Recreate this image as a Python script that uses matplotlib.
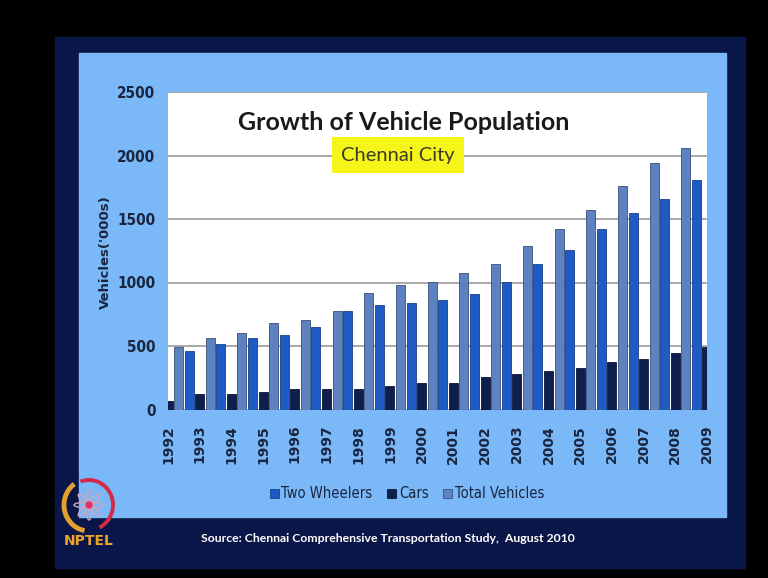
import numpy as np
import matplotlib
matplotlib.use("Agg")
import matplotlib.pyplot as plt
from matplotlib.patches import Rectangle, Arc, Ellipse, Circle

years = [str(y) for y in range(1992, 2010)]
# values in thousands (first TW and last total are cut off by the axis)
two_wheelers = [430, 463, 516, 566, 585, 653, 774, 821, 842, 863, 913, 1002, 1149, 1259, 1425, 1546, 1661, 1811]
cars = [69, 120, 120, 140, 161, 161, 161, 188, 211, 211, 259, 280, 306, 330, 374, 398, 445, 495]
total = [495, 566, 605, 684, 705, 774, 915, 984, 1002, 1078, 1149, 1288, 1425, 1567, 1756, 1940, 2058, 2250]
yticks = [0, 500, 1000, 1500, 2000, 2500]

W, H = 768, 578
fig = plt.figure(figsize=(W / 100, H / 100), dpi=100, facecolor='black')

# slide background drawn in pixel coords
bg = fig.add_axes([0, 0, 1, 1])
bg.set_xlim(0, W)
bg.set_ylim(H, 0)
bg.axis('off')
bg.set_zorder(0)
bg.add_patch(Rectangle((55, 37), 690, 531, color='#0b1648'))
bg.add_patch(Rectangle((79, 53), 647, 464, color='#7ab8f7'))

# NPTEL logo (rough)
cx, cy = 89, 505
bg.add_patch(Arc((cx, cy), 50, 52, theta1=100, theta2=235, color='#e3a02e', lw=3.5))
bg.add_patch(Arc((cx, cy), 48, 50, theta1=-110, theta2=65, color='#d42a4a', lw=2.8))
for ang in [0, 45, 90, 135]:
    bg.add_patch(Ellipse((cx, cy), 30, 6, angle=ang, fill=False, ec='#c9a7c0', lw=1.0))
bg.add_patch(Circle((cx, cy), 3, color='#e0306a'))
bg.text(89, 541, 'NPTEL', color='#eda12f', fontsize=10, fontweight='bold',
        ha='center', va='center')

# main chart
ax = fig.add_axes([168 / W, 1 - 409.5 / H, 539 / W, 317.5 / H])
ax.set_zorder(1)
ax.set_facecolor('white')

x = np.arange(len(years))
bw = 0.285
ax.bar(x - 1 / 3, two_wheelers, bw, color='#1f5bc5', edgecolor='#17408a', lw=0.6,
       label='Two Wheelers', zorder=3)
ax.bar(x, cars, bw, color='#0f1f4d', edgecolor='#0a1535', lw=0.6,
       label='Cars', zorder=3)
ax.bar(x + 1 / 3, total, bw, color='#5d82c0', edgecolor='#3b4f78', lw=0.6,
       label='Total Vehicles', zorder=3)

ax.set_xlim(0, len(years) - 1)
ax.set_ylim(0, 2500)
ax.set_yticks(yticks)
ax.yaxis.grid(True, color='#9a9a9a', lw=1.2, zorder=0)
for s in ax.spines.values():
    s.set_visible(False)

ax.set_xticks(x)
ax.set_xticklabels(years, rotation=90, fontsize=10, fontweight='bold',
                   color='#1a2540', family='DejaVu Sans')
ax.tick_params(axis='x', length=0, pad=11)
ax.tick_params(axis='y', length=0, pad=9)
for lab in ax.get_yticklabels():
    lab.set_family('DejaVu Sans')
    lab.set_stretch('condensed')
    lab.set_fontweight('bold')
    lab.set_fontsize(11)
    lab.set_color('#1a2540')

fig.text(105 / W, 1 - 252 / H, "Vehicles('000s)", rotation=90, fontsize=9.5,
         fontweight='bold', color='#1a2540', ha='center', va='center')

fig.text(404 / W, 1 - 123 / H, 'Growth of Vehicle Population', fontsize=18,
         family='Lato', fontweight='bold', color='#1a1a1a', ha='center', va='center', zorder=5)
fig.text(398 / W, 1 - 155 / H, 'Chennai City', fontsize=14.5, family='Lato',
         color='#3a3a2a', ha='center', va='center', zorder=5,
         bbox=dict(boxstyle='square,pad=0.45', fc='#f5f51a', ec='none'))

leg = fig.legend(loc='center', bbox_to_anchor=(407 / W, 1 - 494 / H), ncol=3,
                 frameon=False, handlelength=0.6, handleheight=0.6,
                 handletextpad=0.2, columnspacing=1.0,
                 prop={'family': 'DejaVu Sans', 'stretch': 'condensed', 'size': 10.5})
for t in leg.get_texts():
    t.set_color('#1a2540')

fig.text(388 / W, 1 - 538 / H,
         'Source: Chennai Comprehensive Transportation Study,  August 2010',
         fontsize=8.8, fontweight='bold', family='Lato', color='white',
         ha='center', va='center')

fig.savefig('out.png', dpi=100, facecolor='black')
